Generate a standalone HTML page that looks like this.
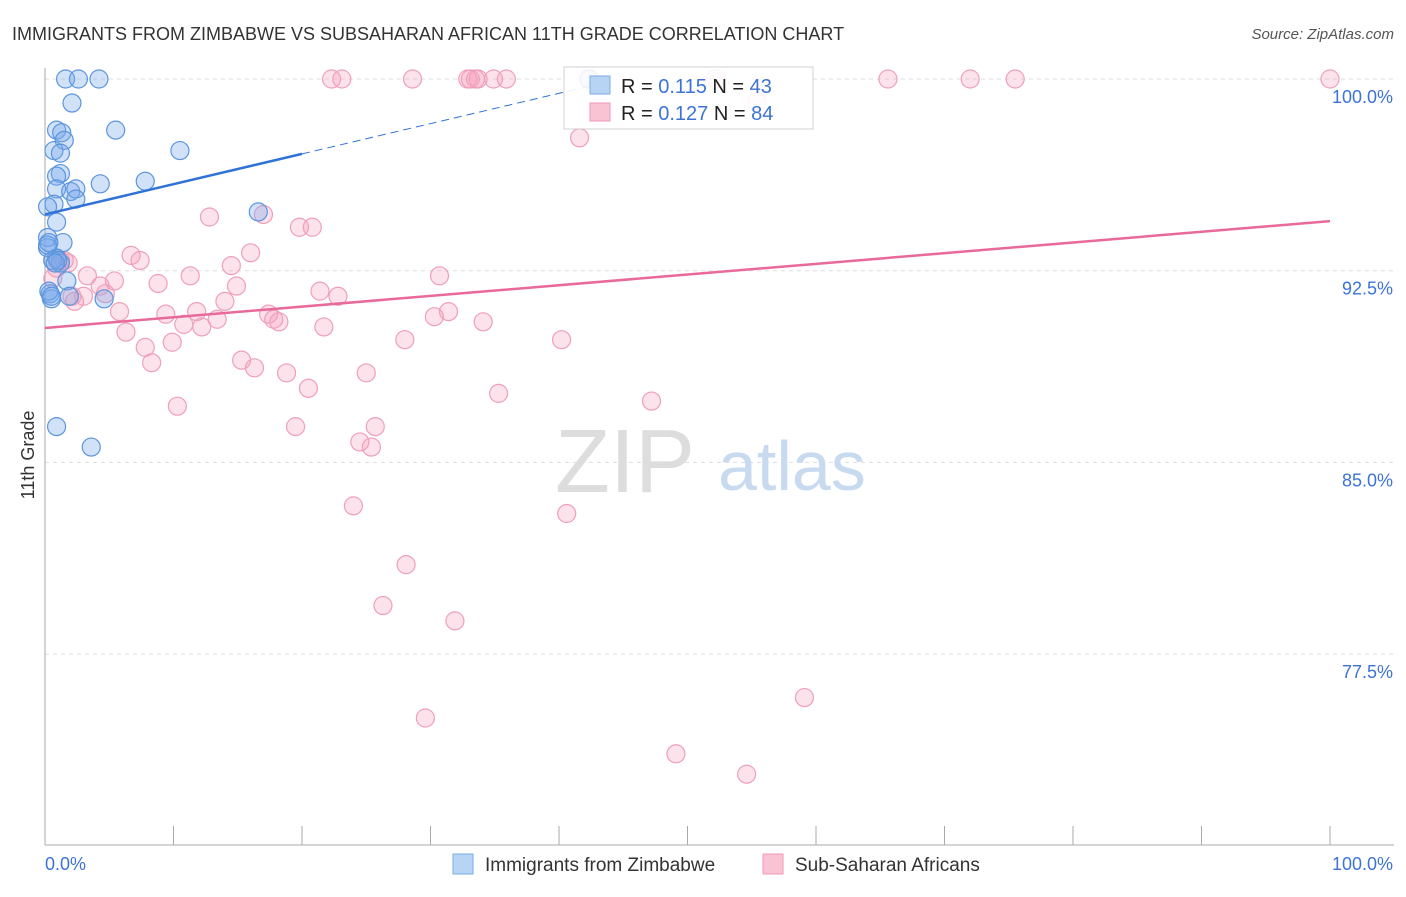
<!DOCTYPE html>
<html><head><meta charset="utf-8"><style>
body{margin:0;background:#fff;font-family:"Liberation Sans",sans-serif}
svg text{font-family:"Liberation Sans",sans-serif}
</style></head><body>
<svg id="c" width="1406" height="892" xmlns="http://www.w3.org/2000/svg">
<text x="12" y="40" font-size="18" fill="#333">IMMIGRANTS FROM ZIMBABWE VS SUBSAHARAN AFRICAN 11TH GRADE CORRELATION CHART</text>
<text x="1394" y="39" font-size="15" fill="#555" text-anchor="end" font-style="italic">Source: ZipAtlas.com</text>
<text x="34" y="455" font-size="18" fill="#333" text-anchor="middle" transform="rotate(-90 34 455)">11th Grade</text>
<g id="grid"></g>
<text x="555" y="492" font-size="90" fill="#ddd" font-family="Liberation Serif">ZIP</text>
<text x="718" y="490" font-size="70" fill="#c8daf0">atlas</text>
<g id="pts"></g>
<g id="trend"></g>
<g>
<rect x="564" y="67" width="249" height="62" fill="#fff" stroke="#ccc" opacity="0.9"/>
<rect x="590" y="76" width="20" height="18" fill="#b8d4f4" stroke="#7aaae6"/>
<rect x="590" y="103" width="20" height="18" fill="#f9c3d3" stroke="#ee9ab4"/>
<text x="621" y="93" font-size="20" fill="#222">R = <tspan fill="#3d73d6">0.115</tspan>   N = <tspan fill="#3d73d6">43</tspan></text>
<text x="621" y="120" font-size="20" fill="#222">R = <tspan fill="#3d73d6">0.127</tspan>   N = <tspan fill="#3d73d6">84</tspan></text>
</g>
<g>
<rect x="453" y="854" width="20" height="20" fill="#b8d4f4" stroke="#7aaae6"/>
<text x="485" y="871" font-size="19" fill="#333">Immigrants from Zimbabwe</text>
<rect x="763" y="854" width="20" height="20" fill="#f9c3d3" stroke="#ee9ab4"/>
<text x="795" y="871" font-size="19" fill="#333">Sub-Saharan Africans</text>
</g>
</svg>
<script>
const yTicks=[100,92.5,85,77.5];
const yTickLabels=["100.0%","92.5%","85.0%","77.5%"];
const xTickCount=[0,10,20,30,40,50,60,70,80,90,100];
const blueX=[1.6,2.6,4.2,2.1,0.9,1.3,5.5,1.5,0.7,1.2,10.5,1.2,0.9,4.3,7.8,0.9,2.0,2.4,0.7,2.4,0.2,0.9,16.6,0.2,1.4,0.2,0.9,1.2,0.6,1.7,1.9,0.4,4.6,0.5,0.9,3.6,42.3,0.3,0.2,1.0,0.5,0.8,0.3];
const blueY=[100,100,100,99.06,98.0,97.9,98.0,97.6,97.2,97.1,97.2,96.3,96.2,95.9,96.0,95.7,95.6,95.7,95.1,95.3,95.0,94.4,94.8,93.8,93.6,93.4,93.0,92.8,92.9,92.1,91.5,91.6,91.4,91.4,86.4,85.6,100,91.7,93.5,92.9,91.5,92.8,93.6];
const pinkX=[22.3,23.1,28.6,33.1,33.5,33.7,34.9,35.9,52.2,65.6,72.0,75.5,100,42.4,32.9,41.6,55.4,12.8,17.0,19.8,20.8,16.0,6.7,7.4,1.2,1.8,0.9,3.3,5.4,11.3,14.5,30.7,8.8,4.3,14.9,21.4,22.8,4.7,3.0,2.3,14.0,9.4,11.8,17.4,17.8,18.2,13.4,10.8,12.2,5.8,30.3,31.4,34.1,21.7,6.3,28.0,40.2,7.8,9.9,8.3,15.3,16.3,18.8,25.0,20.5,35.3,47.2,10.3,19.5,25.7,24.5,25.4,24.0,40.6,28.1,26.3,31.9,29.6,59.1,49.1,54.6,2.1,1.5,0.6];
const pinkY=[100,100,100,100,100,100,100,100,100,100,100,100,100,100,100,97.7,99.1,94.6,94.7,94.2,94.2,93.2,93.1,92.9,92.9,92.8,92.6,92.3,92.1,92.3,92.7,92.3,92.0,91.9,91.9,91.7,91.5,91.6,91.5,91.3,91.3,90.8,90.9,90.8,90.6,90.5,90.6,90.4,90.3,90.9,90.7,90.9,90.5,90.3,90.1,89.8,89.8,89.5,89.7,88.9,89.0,88.7,88.5,88.5,87.9,87.7,87.4,87.2,86.4,86.4,85.8,85.6,83.3,83.0,81.0,79.4,78.8,75.0,75.8,73.6,72.8,91.5,92.9,92.2];
const blueTrend=[94.7,0.1185];
const pinkTrend=[90.26,0.0418];
const X=v=>45+v*12.85;
const Y=v=>79+(100-v)/7.5*191.7;
const NS="http://www.w3.org/2000/svg";
function mk(t,a,p){const e=document.createElementNS(NS,t);for(const k in a)e.setAttribute(k,a[k]);p.appendChild(e);return e;}
const grid=document.getElementById('grid');
yTicks.forEach((t,i)=>{
 const l=mk('line',{x1:45,x2:1394,y1:Y(t),y2:Y(t),stroke:'#ddd','stroke-dasharray':'4 4'},grid);
 
 
 const tx=mk('text',{x:1393,y:Y(t)+24,'font-size':18,fill:'#3d73d6','text-anchor':'end'},grid);
 tx.textContent=yTickLabels[i];
 
 
});
const ax=mk('line',{x1:45,x2:45,y1:68,y2:845,stroke:'#aaa'},grid);


const bx=mk('line',{x1:45,x2:1394,y1:845,y2:845,stroke:'#aaa'},grid);


xTickCount.forEach(t=>{
 const l=mk('line',{x1:X(t),x2:X(t),y1:826,y2:845,stroke:'#aaa'},grid);
 
 
});
[[0,'0.0%','start',45],[100,'100.0%','end',1393]].forEach(d=>{
 const tx=mk('text',{x:d[3],y:870,'font-size':18,fill:'#3d73d6','text-anchor':d[2]},grid);
 tx.textContent=d[1];
 
 
});
const pts=document.getElementById('pts');
pinkX.forEach((x,i)=>{
 const c=mk('circle',{cx:X(x),cy:Y(pinkY[i]),r:9,fill:'rgba(244,160,188,0.3)',stroke:'#ef9fb9','stroke-width':1.2},pts);
 
 
});
blueX.forEach((x,i)=>{
 const c=mk('circle',{cx:X(x),cy:Y(blueY[i]),r:9,fill:'rgba(120,170,235,0.35)',stroke:'#5b95de','stroke-width':1.2},pts);
 
 
});
const tr=document.getElementById('trend');
const b1=mk('line',{x1:X(0),y1:Y(blueTrend[0]),x2:X(20),y2:Y(blueTrend[0]+20*blueTrend[1]),stroke:'#2f72d8','stroke-width':2.5},tr);


const b2=mk('line',{x1:X(20),y1:Y(blueTrend[0]+20*blueTrend[1]),x2:X(44),y2:Y(blueTrend[0]+44*blueTrend[1]),stroke:'#2f72d8','stroke-width':1,'stroke-dasharray':'8 5'},tr);


const p1=mk('line',{x1:X(0),y1:Y(pinkTrend[0]),x2:X(100),y2:Y(pinkTrend[0]+100*pinkTrend[1]),stroke:'#e8699a','stroke-width':2.5},tr);


</script>
</body></html>
